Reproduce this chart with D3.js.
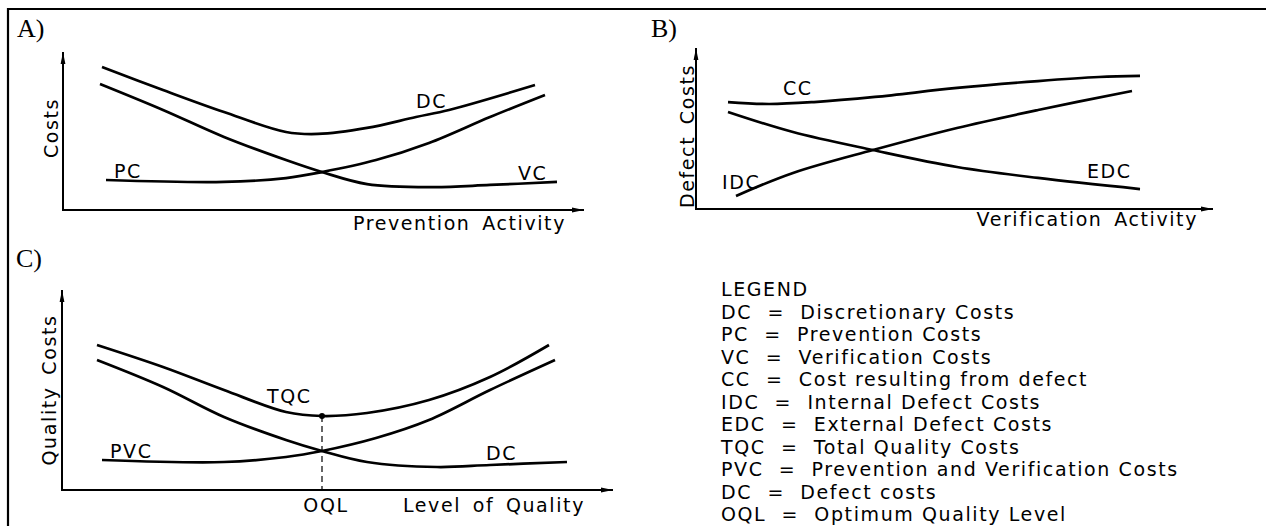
<!DOCTYPE html>
<html>
<head>
<meta charset="utf-8">
<script src="https://cdn.jsdelivr.net/npm/d3@7"></script>
<style>
  body { margin: 0; background: #fff; }
  svg { display: block; }
  .cad { font-family: "DejaVu Sans", sans-serif; font-size: 19px; letter-spacing: 1.6px; fill: #000; }
  .ttl { word-spacing: 4px; }
  .tag { font-family: "Liberation Serif", "Times New Roman", serif; font-size: 26px; fill: #000; }
</style>
</head>
<body>
<svg id="chart" width="1266" height="526"></svg>
<script>
// A) prevention activity curves, [activity, cost] on a 0-100 scale
const dcA = [[7.8, 95.3], [20, 80], [32.2, 65.3], [44.6, 52], [51, 50.7], [60.8, 54.7], [70.6, 62], [77.2, 66.7], [94.4, 83.3]];
const vcA = [[7.4, 84], [20, 66.7], [32.2, 48.7], [44.6, 33.3], [51.8, 25.3], [60.8, 17.3], [74, 15.3], [85.4, 16.7], [98.8, 18.7]];
const pcA = [[8.6, 20], [32.2, 18.7], [44.6, 21.3], [51.8, 25.3], [62.6, 33.3], [73.2, 44.7], [85.4, 62], [96.4, 76.7]];

// B) verification activity curves
const ccB = [[6.4, 71.3], [14.6, 70], [23.6, 71.3], [35.8, 74.7], [52.2, 80.7], [68.4, 85.3], [80.6, 88], [88.8, 88.7]];
const edcB = [[6.4, 64.7], [19.4, 51.3], [35.4, 39.3], [52.2, 28], [68.4, 20.7], [88.8, 13.3]];
const idcB = [[8, 8.7], [19.4, 24], [35.4, 39.3], [52.2, 54], [68.4, 66], [87.2, 78.7]];

// C) level of quality curves
const tqcC = [[7, 72.5], [20.2, 61.5], [32.4, 50], [44.8, 39], [52, 37], [61, 38.5], [73.4, 45], [85.6, 56.5], [97.4, 72.5]];
const dcC = [[7, 65], [20.2, 51.5], [32.4, 36.5], [44.8, 25], [52, 19.5], [61, 14], [75, 11.5], [85.6, 12.5], [101, 14]];
const pvcC = [[8, 15], [32.4, 14], [44.8, 16.5], [52, 19.5], [62.8, 26], [73.4, 35], [85.6, 50], [98.6, 65]];
const oqlPoint = [52, 37];

const legendLines = [
  "LEGEND",
  "DC  =  Discretionary Costs",
  "PC  =  Prevention Costs",
  "VC  =  Verification Costs",
  "CC  =  Cost resulting from defect",
  "IDC  =  Internal Defect Costs",
  "EDC  =  External Defect Costs",
  "TQC  =  Total Quality Costs",
  "PVC  =  Prevention and Verification Costs",
  "DC  =  Defect costs",
  "OQL  =  Optimum Quality Level"
];

const svg = d3.select("#chart");

// frame (cropped drawing: only top and left edges visible)
svg.append("path")
  .attr("d", "M8,526 V9 H1266")
  .attr("fill", "none")
  .attr("stroke", "#000")
  .attr("stroke-width", 2.2);

const defs = svg.append("defs");
defs.append("marker")
  .attr("id", "arrow")
  .attr("viewBox", "0 0 12 6")
  .attr("refX", 12).attr("refY", 3)
  .attr("markerWidth", 12).attr("markerHeight", 6)
  .attr("markerUnits", "userSpaceOnUse")
  .attr("orient", "auto")
  .append("path")
  .attr("d", "M0,0.6 L12,3 L0,5.4 Z")
  .attr("fill", "#000");

const line = (x, y) => d3.line()
  .x(d => x(d[0]))
  .y(d => y(d[1]))
  .curve(d3.curveCatmullRom.alpha(0.5));

function panel(cfg) {
  const g = svg.append("g");
  const x = d3.scaleLinear().domain([0, 100]).range([cfg.left, cfg.left + 500]);
  const y = d3.scaleLinear().domain([0, 100]).range([cfg.bottom, cfg.top]);

  // axes with arrow heads
  g.append("line")
    .attr("x1", x(0)).attr("y1", y(0))
    .attr("x2", x(0)).attr("y2", cfg.arrowTop)
    .attr("stroke", "#000").attr("stroke-width", 2)
    .attr("marker-end", "url(#arrow)");
  g.append("line")
    .attr("x1", x(0) - 1).attr("y1", y(0))
    .attr("x2", cfg.arrowRight).attr("y2", y(0))
    .attr("stroke", "#000").attr("stroke-width", 2)
    .attr("marker-end", "url(#arrow)");

  cfg.curves.forEach(c => {
    g.append("path")
      .datum(c)
      .attr("d", line(x, y))
      .attr("fill", "none")
      .attr("stroke", "#000")
      .attr("stroke-width", 2.7);
  });

  cfg.labels.forEach(l => {
    g.append("text").attr("class", "cad")
      .attr("x", x(l[1])).attr("y", y(l[2]))
      .text(l[0]);
  });

  g.append("text").attr("class", "cad ttl")
    .attr("text-anchor", "end")
    .attr("x", cfg.xTitle[1]).attr("y", cfg.xTitle[2])
    .text(cfg.xTitle[0]);

  g.append("text").attr("class", "cad ttl")
    .attr("text-anchor", "middle")
    .attr("transform", `translate(${cfg.yTitle[1]},${cfg.yTitle[2]}) rotate(-90)`)
    .text(cfg.yTitle[0]);

  svg.append("text").attr("class", "tag")
    .attr("x", cfg.tag[1]).attr("y", cfg.tag[2])
    .text(cfg.tag[0]);

  return { g, x, y };
}

panel({
  left: 63, bottom: 210, top: 60, arrowTop: 52, arrowRight: 584,
  curves: [dcA, vcA, pcA],
  labels: [["DC", 70.6, 68], ["PC", 10.2, 21.3], ["VC", 91, 20]],
  xTitle: ["Prevention  Activity", 566, 230],
  yTitle: ["Costs", 58, 128],
  tag: ["A)", 17, 37]
});

panel({
  left: 696, bottom: 209, top: 59, arrowTop: 48, arrowRight: 1213,
  curves: [ccB, edcB, idcB],
  labels: [["CC", 17.4, 76], ["IDC", 5.2, 13.3], ["EDC", 78.2, 20.7]],
  xTitle: ["Verification  Activity", 1198, 226],
  yTitle: ["Defect  Costs", 694, 136],
  tag: ["B)", 651, 37]
});

const pc = panel({
  left: 62, bottom: 490, top: 290, arrowTop: 290, arrowRight: 613,
  curves: [tqcC, dcC, pvcC],
  labels: [["TQC", 41, 43.5], ["PVC", 9.6, 16], ["DC", 84.8, 15]],
  xTitle: ["Level  of  Quality", 585, 512],
  yTitle: ["Quality  Costs", 56, 390],
  tag: ["C)", 16, 267]
});

// optimum quality level marker
pc.g.append("line")
  .attr("x1", pc.x(oqlPoint[0])).attr("y1", pc.y(oqlPoint[1]))
  .attr("x2", pc.x(oqlPoint[0])).attr("y2", pc.y(0))
  .attr("stroke", "#000").attr("stroke-width", 1.2)
  .attr("stroke-dasharray", "6,4");
pc.g.append("circle")
  .attr("cx", pc.x(oqlPoint[0])).attr("cy", pc.y(oqlPoint[1]))
  .attr("r", 3).attr("fill", "#000");
pc.g.append("text").attr("class", "cad")
  .attr("text-anchor", "middle")
  .attr("x", pc.x(oqlPoint[0]) + 4).attr("y", 512)
  .text("OQL");

// legend
svg.append("g").selectAll("text")
  .data(legendLines)
  .join("text")
  .attr("class", "cad")
  .attr("x", 721)
  .attr("y", (d, i) => 296 + i * 22.5)
  .style("white-space", "pre")
  .text(d => d);
</script>
</body>
</html>
